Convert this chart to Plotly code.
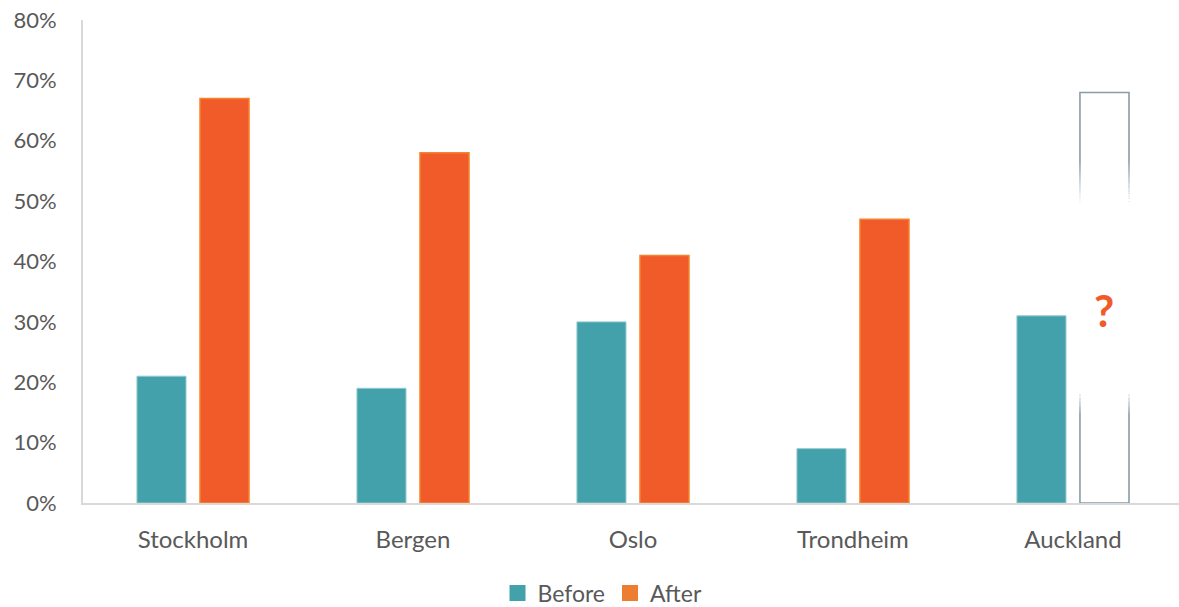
import plotly.graph_objects as go

# Share of respondents per city, before and after
cities = ["Stockholm", "Bergen", "Oslo", "Trondheim", "Auckland"]
before = [0.21, 0.19, 0.30, 0.09, 0.31]
after = [0.67, 0.58, 0.41, 0.47, None]
auckland_after_estimate = 0.68   # not yet measured: drawn as an open outline
question_level = 0.32

TEAL = "#42A1AA"
ORANGE = "#F15B2A"
ORANGE_EDGE = "#F5842F"
LEGEND_ORANGE = "#ED7D31"
OUTLINE = "#8A9BA8"
TEXT = "#595959"
AXIS = "#D9D9D9"
FONT = "Lato"

BARGAP = 0.427
GROUPGAP = 0.222
PLOT_W = 1096
X_RANGE = [-0.5, 4.482]
PX_PER_CAT = PLOT_W / (X_RANGE[1] - X_RANGE[0])

fig = go.Figure()

fig.add_trace(go.Bar(
    x=cities, y=before, name="Before", showlegend=False,
    marker=dict(color=TEAL, line=dict(color="#93CACE", width=1)),
    offsetgroup="before",
))

fig.add_trace(go.Bar(
    x=cities, y=after, name="After", showlegend=False,
    marker=dict(color=ORANGE, line=dict(color=ORANGE_EDGE, width=1.5)),
    offsetgroup="after",
))

# Open outline for the expected Auckland value
fig.add_trace(go.Bar(
    x=[cities[-1]], y=[auckland_after_estimate], showlegend=False,
    marker=dict(color="white", line=dict(color=OUTLINE, width=1.6)),
    offsetgroup="after",
))

# Legend entries
fig.add_trace(go.Scatter(x=[None], y=[None], mode="markers", name="Before",
                         marker=dict(symbol="square", size=17, color=TEAL)))
fig.add_trace(go.Scatter(x=[None], y=[None], mode="markers", name="After",
                         marker=dict(symbol="square", size=17, color=LEGEND_ORANGE)))

# Fade out the middle of the outline's side strokes
slot = (1 - BARGAP) / 2
cx = len(cities) - 1 + slot / 2
half = slot * (1 - GROUPGAP) / 2 + 0.01
top_solid, top_clear = 0.565, 0.50
bot_clear, bot_solid = 0.182, 0.147
shapes = []
steps = 16
for i in range(steps):
    # upper fade
    y0 = top_solid - (top_solid - top_clear) * i / steps
    y1 = top_solid - (top_solid - top_clear) * (i + 1) / steps
    shapes.append(dict(type="rect", xref="x", yref="y", x0=cx - half, x1=cx + half,
                       y0=y1, y1=y0, fillcolor="white", opacity=(i + 1) / steps,
                       line=dict(width=0), layer="above"))
    # lower fade
    y0 = bot_solid + (bot_clear - bot_solid) * i / steps
    y1 = bot_solid + (bot_clear - bot_solid) * (i + 1) / steps
    shapes.append(dict(type="rect", xref="x", yref="y", x0=cx - half, x1=cx + half,
                       y0=y0, y1=y1, fillcolor="white", opacity=(i + 1) / steps,
                       line=dict(width=0), layer="above"))
shapes.append(dict(type="rect", xref="x", yref="y", x0=cx - half, x1=cx + half,
                   y0=bot_clear, y1=top_clear, fillcolor="white", opacity=1,
                   line=dict(width=0), layer="above"))

fig.update_layout(
    width=1179, height=607,
    margin=dict(l=83, r=0, t=20, b=104, autoexpand=False),
    paper_bgcolor="white", plot_bgcolor="white",
    barmode="group", bargap=BARGAP, bargroupgap=GROUPGAP,
    font=dict(family=FONT, color=TEXT, size=22),
    shapes=shapes,
    annotations=[dict(
        x=cities[-1], y=question_level, xref="x", yref="y",
        text="<b>?</b>", showarrow=False, xshift=slot / 2 * PX_PER_CAT,
        font=dict(family=FONT, size=44, color=ORANGE),
    )],
    legend=dict(orientation="h", x=0.474, xanchor="center",
                yref="container", y=1 - 593 / 607, yanchor="middle",
                font=dict(family=FONT, size=23, color=TEXT), itemwidth=30,
                bgcolor="rgba(0,0,0,0)"),
    xaxis=dict(
        type="category", range=X_RANGE,
        showline=True, linecolor=AXIS, linewidth=2,
        showgrid=False, ticks="", tickfont=dict(size=24, color=TEXT),
        ticklabelstandoff=14, fixedrange=True,
    ),
    yaxis=dict(
        range=[0, 0.8], dtick=0.1, tickformat=".0%",
        showline=True, linecolor=AXIS, linewidth=2,
        showgrid=False, zeroline=False, ticks="",
        tickfont=dict(size=22, color=TEXT), ticklabelstandoff=20,
    ),
)

fig.write_html("out.html")
